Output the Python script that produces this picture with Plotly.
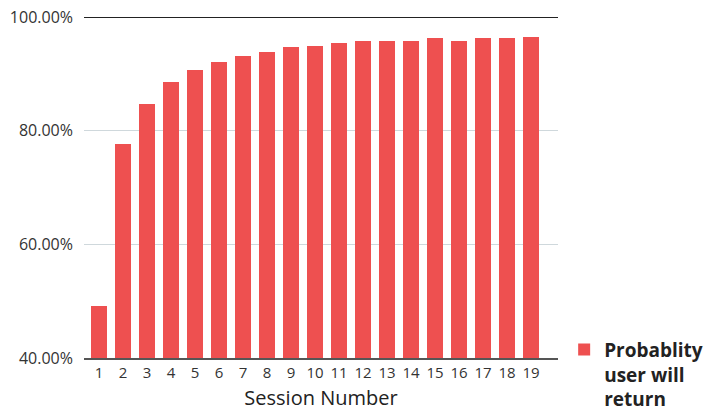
import plotly.graph_objects as go

# Session number vs. probability (in %) that a user comes back
sessions = list(range(1, 20))
return_prob = [49.1, 77.6, 84.7, 88.6, 90.7, 92.1, 93.1, 93.8, 94.7, 94.9,
               95.4, 95.8, 95.8, 95.8, 96.3, 95.8, 96.3, 96.3, 96.5]
y_ticks = [40, 60, 80, 100]
series_name = "Probablity<br>user will<br>return"

bar_color = "#ee5050"
font_family = "'Open Sans', Lato, sans-serif"

fig = go.Figure(
    go.Bar(
        x=sessions,
        y=return_prob,
        name=series_name,
        marker=dict(color=bar_color, line=dict(width=0)),
        width=0.667,
        showlegend=True,
    )
)

fig.update_layout(
    width=713,
    height=411,
    margin=dict(l=84, r=155, t=17, b=53, autoexpand=False),
    paper_bgcolor="white",
    plot_bgcolor="white",
    font=dict(family=font_family, color="#333", size=15),
    bargap=0,
    legend=dict(
        x=1.013,
        y=0.08,
        xanchor="left",
        yanchor="top",
        valign="top",
        font=dict(family=font_family, size=19, color="#222", weight="bold"),
        itemwidth=30,
        tracegroupgap=0,
    ),
    xaxis=dict(
        range=[0.375, 20.125],
        tickmode="array",
        tickvals=sessions,
        ticktext=[str(s) for s in sessions],
        showgrid=False,
        showline=True,
        linecolor="#555",
        linewidth=1.5,
        ticks="",
        automargin=False,
        tickfont=dict(size=15, color="#333"),
        title=dict(text="Session Number", font=dict(size=20, color="#222"), standoff=10),
        zeroline=False,
    ),
    yaxis=dict(
        range=[40, 100],
        tickmode="array",
        tickvals=y_ticks,
        ticktext=[f"{v:.2f}%" for v in y_ticks],
        showgrid=True,
        gridcolor="#cfd8dc",
        gridwidth=1,
        showline=False,
        zeroline=False,
        ticks="",
        automargin=False,
        ticklabelstandoff=10,
        tickfont=dict(size=16, color="#333"),
    ),
)

# dark rule along the 100% line
fig.add_shape(type="line", xref="paper", yref="y", x0=0, x1=1, y0=100, y1=100,
              line=dict(color="#222", width=2), layer="above")

fig.write_html("out.html")
